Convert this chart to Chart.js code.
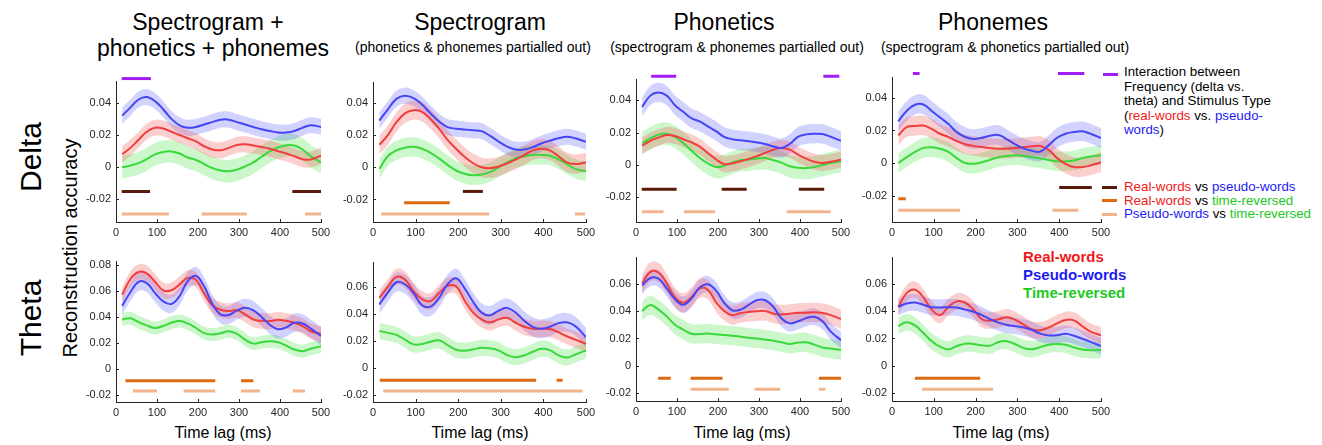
<!DOCTYPE html>
<html lang="en">
<head>
  <meta charset="UTF-8" />
  <title>Reconstruction accuracy</title>
  <script src="https://cdn.jsdelivr.net/npm/chart.js"></script>
  <style>
    body { margin: 0; background: #fff; font-family: "Liberation Sans", Arial, sans-serif; }
    #page { position: relative; width: 1322px; height: 445px; overflow: hidden; }
    canvas { position: absolute; }
    .t { position: absolute; white-space: nowrap; color: #000; transform: translate(-50%, -50%); }
    .rot { transform: translate(-50%, -50%) rotate(-90deg); }
    .mark { position: absolute; height: 3px; width: 15px; }
    .red { color: #f01818; } .blue { color: #1c1cf0; } .green { color: #22c822; }
  </style>
</head>
<body>
<div id="page">
  <div class="t" style="left:208px;top:22px;font-size:23px">Spectrogram +</div>
  <div class="t" style="left:213px;top:48px;font-size:23px">phonetics + phonemes</div>
  <div class="t" style="left:480px;top:22px;font-size:23px">Spectrogram</div>
  <div class="t" style="left:473px;top:47px;font-size:14px">(phonetics &amp; phonemes partialled out)</div>
  <div class="t" style="left:724px;top:22px;font-size:23px">Phonetics</div>
  <div class="t" style="left:737px;top:47px;font-size:14px">(spectrogram &amp; phonemes partialled out)</div>
  <div class="t" style="left:993px;top:22px;font-size:23px">Phonemes</div>
  <div class="t" style="left:1005px;top:47px;font-size:14px">(spectrogram &amp; phonetics partialled out)</div>

  <div class="t rot" style="left:31px;top:157px;font-size:30px">Delta</div>
  <div class="t rot" style="left:31px;top:318px;font-size:30px">Theta</div>
  <div class="t rot" style="left:70px;top:248px;font-size:20px">Reconstruction accuracy</div>

  <div class="t" style="left:223px;top:433px;font-size:16px">Time lag (ms)</div>
  <div class="t" style="left:480px;top:433px;font-size:16px">Time lag (ms)</div>
  <div class="t" style="left:742px;top:433px;font-size:16px">Time lag (ms)</div>
  <div class="t" style="left:1001px;top:433px;font-size:16px">Time lag (ms)</div>

  <div class="mark" style="left:1103px;top:73px;background:#a31cf5"></div>
  <div style="position:absolute;left:1124px;top:65px;font-size:13.3px;line-height:14.5px;white-space:nowrap">
    Interaction between<br>Frequency (delta vs.<br>theta) and Stimulus Type<br>(<span class="red">real-words</span> vs. <span class="blue">pseudo-</span><br><span class="blue">words</span>)
  </div>

  <div class="mark" style="left:1102px;top:186px;background:#5a1a0a"></div>
  <div class="mark" style="left:1102px;top:199px;background:#dd6a10"></div>
  <div class="mark" style="left:1102px;top:213px;background:#f2b48c"></div>
  <div style="position:absolute;left:1124px;top:180px;font-size:13.3px;line-height:13.5px;white-space:nowrap">
    <span class="red">Real-words</span> vs <span class="blue">pseudo-words</span><br>
    <span class="red">Real-words</span> vs <span class="green">time-reversed</span><br>
    <span class="blue">Pseudo-words</span> vs <span class="green">time-reversed</span>
  </div>

  <div style="position:absolute;left:1023px;top:248px;font-size:15px;font-weight:bold;line-height:18px;white-space:nowrap">
    <span class="red">Real-words</span><br><span class="blue">Pseudo-words</span><br><span class="green">Time-reversed</span>
  </div>
</div>

<script>
  // time lag (ms) of every sample
  const timeLag = [15, 35, 55, 75, 95, 115, 135, 155, 175, 195, 215, 235, 255, 275, 295, 315, 335, 355, 375, 395, 415, 435, 455, 475, 500];

  // delta band, one array per column and stimulus type
  const deltaReal1 = [0.008, 0.012, 0.017, 0.022, 0.0245, 0.024, 0.022, 0.020, 0.018, 0.016, 0.013, 0.011, 0.0105, 0.012, 0.0138, 0.0142, 0.0135, 0.0125, 0.0115, 0.010, 0.0085, 0.0068, 0.005, 0.0048, 0.0072];
  const deltaPseudo1 = [0.032, 0.037, 0.042, 0.0435, 0.041, 0.036, 0.030, 0.026, 0.0245, 0.025, 0.0265, 0.028, 0.0295, 0.0295, 0.028, 0.0265, 0.025, 0.0235, 0.0225, 0.0215, 0.0215, 0.0225, 0.0245, 0.026, 0.025];
  const deltaReversed1 = [0, 0.001, 0.0025, 0.005, 0.008, 0.0095, 0.0098, 0.0085, 0.006, 0.0045, 0.002, -0.0005, -0.002, -0.0025, -0.0015, 0.0005, 0.003, 0.0065, 0.0098, 0.0122, 0.0137, 0.0135, 0.011, 0.0068, 0.003];

  const deltaReal2 = [0.014, 0.020, 0.028, 0.0335, 0.0355, 0.0345, 0.030, 0.024, 0.017, 0.0115, 0.0065, 0.0025, 0, -0.0005, 0.0005, 0.0025, 0.0048, 0.0075, 0.0105, 0.0115, 0.0105, 0.007, 0.003, 0.002, 0.003];
  const deltaPseudo2 = [0.029, 0.036, 0.0425, 0.0445, 0.043, 0.039, 0.0335, 0.0285, 0.025, 0.024, 0.0235, 0.023, 0.0225, 0.0195, 0.016, 0.0128, 0.011, 0.011, 0.0125, 0.0148, 0.0165, 0.018, 0.019, 0.018, 0.0158];
  const deltaReversed2 = [-0.001, 0.007, 0.0105, 0.0122, 0.0127, 0.0115, 0.009, 0.0055, 0.0015, -0.002, -0.004, -0.005, -0.0045, -0.003, 0, 0.003, 0.0055, 0.007, 0.0077, 0.0077, 0.0072, 0.005, 0.002, -0.001, -0.0025];

  const deltaReal3 = [0.012, 0.015, 0.017, 0.0186, 0.018, 0.016, 0.014, 0.0115, 0.0075, 0.0035, 0.0006, 0.001, 0.0023, 0.0038, 0.0055, 0.0075, 0.0095, 0.0105, 0.0095, 0.0065, 0.004, 0.002, 0.0012, 0.002, 0.0033];
  const deltaPseudo3 = [0.036, 0.043, 0.045, 0.043, 0.037, 0.033, 0.029, 0.027, 0.024, 0.021, 0.0175, 0.016, 0.0153, 0.0147, 0.014, 0.013, 0.0115, 0.0105, 0.013, 0.0175, 0.019, 0.0194, 0.0192, 0.0175, 0.015];
  const deltaReversed3 = [0.0136, 0.0165, 0.0188, 0.0194, 0.0175, 0.0136, 0.009, 0.0045, 0.001, -0.0012, -0.0005, 0.0015, 0.003, 0.0033, 0.004, 0.0043, 0.003, 0.0015, -0.0008, -0.0017, -0.0019, -0.0012, 0, 0.0012, 0.0023];

  const deltaReal4 = [0.017, 0.022, 0.0228, 0.023, 0.021, 0.018, 0.016, 0.0135, 0.0115, 0.0105, 0.0098, 0.0092, 0.0088, 0.0088, 0.0092, 0.0097, 0.0103, 0.0105, 0.008, 0.003, -0.0005, -0.0025, -0.0025, -0.0015, 0.0004];
  const deltaPseudo4 = [0.0256, 0.032, 0.0358, 0.036, 0.032, 0.028, 0.024, 0.019, 0.016, 0.0148, 0.0155, 0.0168, 0.0172, 0.0145, 0.0115, 0.009, 0.0075, 0.007, 0.011, 0.0155, 0.018, 0.019, 0.0195, 0.018, 0.0154];
  const deltaReversed4 = [0, 0.0035, 0.0068, 0.0093, 0.0097, 0.0088, 0.0068, 0.003, 0, -0.0005, 0.0005, 0.002, 0.0035, 0.0043, 0.0047, 0.0043, 0.0035, 0.0028, 0.0018, 0.001, 0.001, 0.0015, 0.003, 0.004, 0.0047];

  // theta band
  const thetaReal1 = [0.057, 0.069, 0.0745, 0.0735, 0.067, 0.0605, 0.0605, 0.065, 0.070, 0.0685, 0.058, 0.049, 0.0455, 0.0445, 0.0452, 0.042, 0.038, 0.037, 0.0368, 0.0378, 0.037, 0.0355, 0.033, 0.029, 0.027];
  const thetaPseudo1 = [0.0485, 0.059, 0.067, 0.066, 0.0585, 0.052, 0.050, 0.056, 0.0675, 0.0715, 0.0635, 0.050, 0.042, 0.0415, 0.045, 0.047, 0.045, 0.040, 0.034, 0.0305, 0.032, 0.0355, 0.035, 0.031, 0.0253];
  const thetaReversed1 = [0.038, 0.039, 0.036, 0.0335, 0.0315, 0.033, 0.0355, 0.0368, 0.035, 0.0315, 0.0275, 0.0265, 0.0275, 0.029, 0.027, 0.0225, 0.0195, 0.0205, 0.0213, 0.0205, 0.018, 0.015, 0.0137, 0.0155, 0.0175];

  const thetaReal2 = [0.052, 0.060, 0.0675, 0.0655, 0.057, 0.051, 0.0495, 0.0555, 0.0608, 0.0605, 0.050, 0.041, 0.036, 0.0338, 0.036, 0.0372, 0.0335, 0.0305, 0.029, 0.029, 0.0288, 0.0265, 0.0235, 0.021, 0.0179];
  const thetaPseudo2 = [0.047, 0.056, 0.0635, 0.062, 0.0555, 0.0465, 0.0455, 0.052, 0.062, 0.0665, 0.059, 0.049, 0.041, 0.039, 0.0425, 0.0445, 0.041, 0.035, 0.0305, 0.029, 0.0305, 0.0332, 0.0338, 0.031, 0.0228];
  const thetaReversed2 = [0.0275, 0.026, 0.0245, 0.021, 0.0175, 0.0178, 0.0195, 0.0205, 0.017, 0.0135, 0.0128, 0.0138, 0.015, 0.0145, 0.013, 0.0095, 0.008, 0.0093, 0.012, 0.0142, 0.0132, 0.0095, 0.0078, 0.010, 0.013];

  const thetaReal3 = [0.060, 0.0685, 0.068, 0.060, 0.050, 0.046, 0.050, 0.0565, 0.0555, 0.0465, 0.040, 0.037, 0.0385, 0.0393, 0.0398, 0.040, 0.038, 0.0375, 0.038, 0.0387, 0.0388, 0.039, 0.0385, 0.037, 0.0341];
  const thetaPseudo3 = [0.0585, 0.064, 0.0635, 0.0565, 0.0485, 0.0445, 0.049, 0.057, 0.0595, 0.055, 0.046, 0.0405, 0.041, 0.0445, 0.0478, 0.0478, 0.043, 0.0345, 0.031, 0.0325, 0.0348, 0.0358, 0.0325, 0.025, 0.0188];
  const thetaReversed3 = [0.040, 0.0443, 0.041, 0.036, 0.030, 0.0265, 0.0235, 0.0232, 0.0237, 0.023, 0.0225, 0.022, 0.0213, 0.0205, 0.020, 0.0192, 0.0184, 0.0172, 0.016, 0.017, 0.0172, 0.0155, 0.0135, 0.0127, 0.0116];

  const thetaReal4 = [0.043, 0.053, 0.0555, 0.050, 0.041, 0.037, 0.043, 0.047, 0.046, 0.041, 0.034, 0.033, 0.034, 0.0355, 0.0335, 0.030, 0.0265, 0.026, 0.028, 0.031, 0.0335, 0.0332, 0.029, 0.025, 0.0224];
  const thetaPseudo4 = [0.043, 0.0455, 0.0462, 0.0445, 0.0428, 0.0425, 0.0428, 0.0425, 0.041, 0.0395, 0.037, 0.034, 0.0315, 0.0298, 0.029, 0.028, 0.0262, 0.0235, 0.0222, 0.0224, 0.0234, 0.022, 0.0198, 0.0175, 0.0145];
  const thetaReversed4 = [0.029, 0.0318, 0.0295, 0.024, 0.018, 0.014, 0.012, 0.0145, 0.0162, 0.016, 0.015, 0.0148, 0.0175, 0.018, 0.0158, 0.013, 0.0122, 0.0138, 0.0155, 0.016, 0.0155, 0.0135, 0.012, 0.0115, 0.0116];

  // half-width of the shaded error band, per column: [real, pseudo, reversed]
  const deltaSem = [[0.005, 0.005, 0.007], [0.006, 0.005, 0.006], [0.005, 0.006, 0.007], [0.006, 0.006, 0.006]];
  const thetaSem = [[0.006, 0.007, 0.005], [0.006, 0.007, 0.006], [0.007, 0.006, 0.007], [0.006, 0.006, 0.006]];

  // significant time windows (ms), per column
  const interactionBars = [[[14, 85]], [], [[37, 98], [457, 496]], [[50, 66], [397, 460]]];
  const deltaRealPseudoBars = [[[14, 83], [430, 500]], [[211, 258]], [[14, 99], [209, 270], [397, 459]], [[400, 478]]];
  const deltaRealRevBars = [[], [[73, 180]], [], [[15, 33]]];
  const deltaPseudoRevBars = [[[14, 129], [209, 319], [461, 500]], [[19, 273], [474, 498]], [[14, 67], [117, 193], [367, 475]], [[15, 163], [384, 446]]];
  const thetaRealRevBars = [[[23, 242], [305, 335]], [[16, 383], [431, 445]], [[54, 85], [133, 211], [446, 500]], [[55, 211]]];
  const thetaPseudoRevBars = [[[41, 100], [165, 242], [305, 351], [431, 461]], [[24, 492]], [[133, 226], [289, 352], [446, 462]], [[72, 242]]];

  // y level where each kind of bar is drawn
  const deltaBarLevels = [0.055, -0.015, -0.022, -0.029];
  const thetaBarLevels = [-0.009, -0.017];

  // y limits per column
  const deltaYMin = [-0.034, -0.034, -0.0353, -0.0363];
  const deltaYMax = [0.0535, 0.053, 0.0533, 0.0529];
  const thetaYMin = [-0.0254, -0.0252, -0.0255, -0.0255];
  const thetaYMax = [0.083, 0.0785, 0.0793, 0.0793];

  const colors = {
    real: '#f23d3d', pseudo: '#4646f5', reversed: '#3ad83a',
    realBand: 'rgba(245, 70, 70, 0.26)', pseudoBand: 'rgba(80, 80, 255, 0.26)', reversedBand: 'rgba(70, 225, 70, 0.28)',
    interaction: '#a31cf5', realPseudo: '#5a1a0a', realRev: '#dd6a10', pseudoRev: '#f2b48c'
  };

  const colLeft = [116, 373, 636, 892];
  const colRight = [321, 586, 841, 1101];
  const deltaTop = [81, 82, 79, 77], deltaBottom = 222;
  const thetaTop = [261, 262, 257, 257], thetaBottom = [402, 402, 401, 401];

  const AXIS_W = 44, PAD_TOP = 14, PAD_RIGHT = 16, AXIS_H = 20;

  Chart.defaults.font.family = '"Liberation Sans", Arial, sans-serif';

  // MATLAB style ticks pointing into the axes
  const inwardTicks = {
    id: 'inwardTicks',
    afterDraw(chart) {
      const { ctx, chartArea: a, scales: { x, y } } = chart;
      ctx.save();
      ctx.strokeStyle = '#262626';
      ctx.lineWidth = 1;
      ctx.beginPath();
      x.ticks.forEach(t => {
        const px = Math.round(x.getPixelForValue(t.value)) + 0.5;
        ctx.moveTo(px, a.bottom);
        ctx.lineTo(px, a.bottom - 3);
      });
      y.ticks.forEach(t => {
        const py = Math.round(y.getPixelForValue(t.value)) + 0.5;
        ctx.moveTo(a.left, py);
        ctx.lineTo(a.left + 3, py);
      });
      ctx.stroke();
      ctx.restore();
    }
  };

  function pts(values, offset) {
    return values.map((v, i) => ({ x: timeLag[i], y: v + offset }));
  }

  function barSet(segments, level, color) {
    const data = [];
    segments.forEach(([a, b]) => {
      data.push({ x: a, y: level }, { x: b, y: level }, { x: b, y: null });
    });
    return { data, borderColor: color, borderWidth: 3, pointRadius: 0, borderCapStyle: 'butt', tension: 0, spanGaps: false, clip: false, fill: false };
  }

  function meanLine(values, color) {
    return { data: pts(values, 0), borderColor: color, borderWidth: 2, pointRadius: 0, tension: 0.4, fill: false };
  }

  function bandSets(values, sem, color) {
    return [
      { data: pts(values, sem), borderWidth: 0, pointRadius: 0, tension: 0.4, fill: false },
      { data: pts(values, -sem), borderWidth: 0, pointRadius: 0, tension: 0.4, fill: '-1', backgroundColor: color }
    ];
  }

  function drawPanel(left, right, top, bottom, ymin, ymax, datasets) {
    const canvas = document.createElement('canvas');
    canvas.width = (right - left) + AXIS_W + PAD_RIGHT;
    canvas.height = (bottom - top) + PAD_TOP + AXIS_H;
    canvas.style.left = (left - AXIS_W) + 'px';
    canvas.style.top = (top - PAD_TOP) + 'px';
    document.getElementById('page').appendChild(canvas);

    const tickFont = { size: 11 };
    new Chart(canvas, {
      type: 'line',
      data: { datasets },
      options: {
        responsive: false,
        animation: false,
        events: [],
        layout: { padding: { top: PAD_TOP, right: PAD_RIGHT, left: 0, bottom: 0 } },
        plugins: { legend: { display: false }, tooltip: { enabled: false } },
        scales: {
          x: {
            type: 'linear', min: 0, max: 500,
            ticks: { stepSize: 100, padding: 4, color: '#262626', font: tickFont, maxRotation: 0, autoSkip: false },
            grid: { display: false, drawTicks: false },
            border: { display: true, color: '#262626', width: 1 },
            afterFit: s => { s.height = AXIS_H; s.paddingLeft = 0; s.paddingRight = 0; }
          },
          y: {
            type: 'linear', min: ymin, max: ymax,
            ticks: { stepSize: 0.02, includeBounds: false, padding: 5, color: '#262626', font: tickFont,
              callback: v => Number(v.toFixed(2)).toString() },
            grid: { display: false, drawTicks: false },
            border: { display: true, color: '#262626', width: 1 },
            afterFit: s => { s.width = AXIS_W; s.paddingTop = 0; s.paddingBottom = 0; }
          }
        }
      },
      plugins: [inwardTicks]
    });
  }

  const deltaReal = [deltaReal1, deltaReal2, deltaReal3, deltaReal4];
  const deltaPseudo = [deltaPseudo1, deltaPseudo2, deltaPseudo3, deltaPseudo4];
  const deltaReversed = [deltaReversed1, deltaReversed2, deltaReversed3, deltaReversed4];
  const thetaReal = [thetaReal1, thetaReal2, thetaReal3, thetaReal4];
  const thetaPseudo = [thetaPseudo1, thetaPseudo2, thetaPseudo3, thetaPseudo4];
  const thetaReversed = [thetaReversed1, thetaReversed2, thetaReversed3, thetaReversed4];

  for (let c = 0; c < 4; c++) {
    // first dataset is drawn on top
    const delta = [
      barSet(interactionBars[c], deltaBarLevels[0], colors.interaction),
      barSet(deltaRealPseudoBars[c], deltaBarLevels[1], colors.realPseudo),
      barSet(deltaRealRevBars[c], deltaBarLevels[2], colors.realRev),
      barSet(deltaPseudoRevBars[c], deltaBarLevels[3], colors.pseudoRev),
      meanLine(deltaPseudo[c], colors.pseudo),
      meanLine(deltaReal[c], colors.real),
      meanLine(deltaReversed[c], colors.reversed),
      ...bandSets(deltaReal[c], deltaSem[c][0], colors.realBand),
      ...bandSets(deltaPseudo[c], deltaSem[c][1], colors.pseudoBand),
      ...bandSets(deltaReversed[c], deltaSem[c][2], colors.reversedBand)
    ];
    drawPanel(colLeft[c], colRight[c], deltaTop[c], deltaBottom, deltaYMin[c], deltaYMax[c], delta);

    const theta = [
      barSet(thetaRealRevBars[c], thetaBarLevels[0], colors.realRev),
      barSet(thetaPseudoRevBars[c], thetaBarLevels[1], colors.pseudoRev),
      meanLine(thetaPseudo[c], colors.pseudo),
      meanLine(thetaReal[c], colors.real),
      meanLine(thetaReversed[c], colors.reversed),
      ...bandSets(thetaReal[c], thetaSem[c][0], colors.realBand),
      ...bandSets(thetaPseudo[c], thetaSem[c][1], colors.pseudoBand),
      ...bandSets(thetaReversed[c], thetaSem[c][2], colors.reversedBand)
    ];
    drawPanel(colLeft[c], colRight[c], thetaTop[c], thetaBottom[c], thetaYMin[c], thetaYMax[c], theta);
  }
</script>
</body>
</html>
